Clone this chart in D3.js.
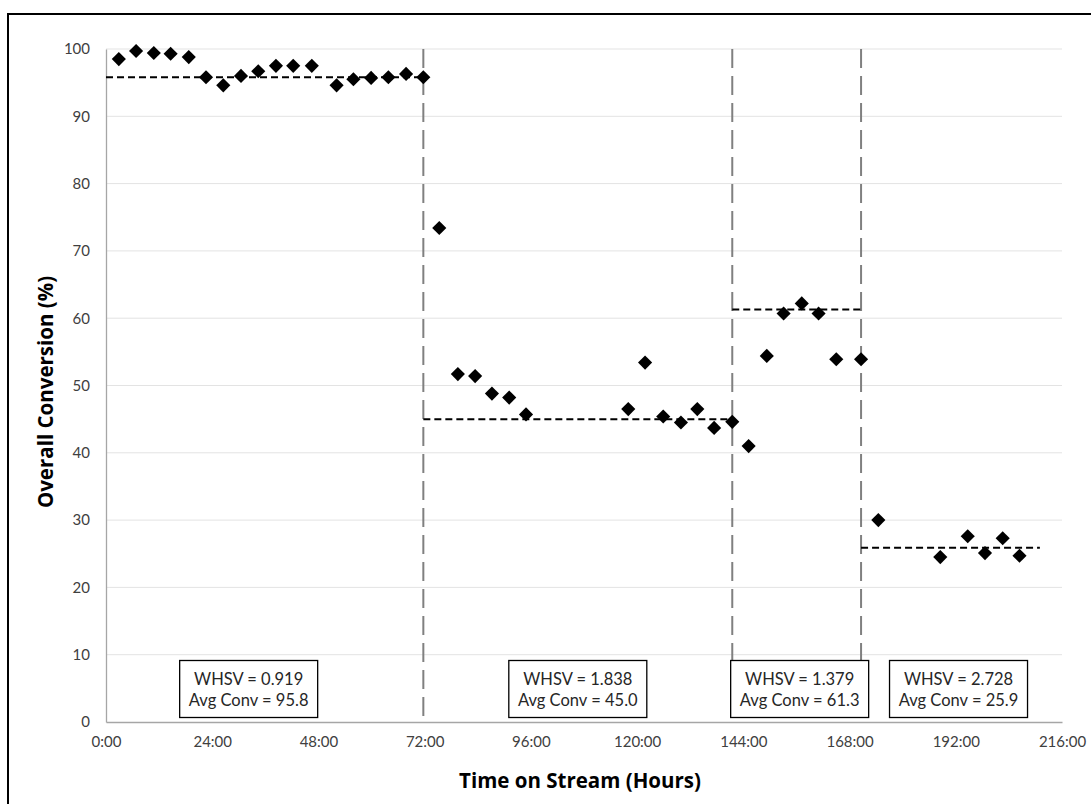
<!DOCTYPE html>
<html>
<head>
<meta charset="utf-8">
<script src="https://cdn.jsdelivr.net/npm/d3@7/dist/d3.min.js"></script>
<style>
  html, body { margin: 0; padding: 0; background: #fff; }
  svg { display: block; }
</style>
</head>
<body>
<svg id="grafico"></svg>
<script>
// datos
const horas = [2.9, 6.8, 10.8, 14.6, 18.7, 22.6, 26.5, 30.5, 34.4, 38.4, 42.3, 46.5,
  52.1, 55.9, 59.9, 63.8, 67.8, 71.7,
  75.3, 79.5, 83.4, 87.2, 91.1, 94.9, 118.0, 121.8, 125.9, 129.9, 133.6, 137.4, 141.5,
  145.2, 149.3, 153.1, 157.2, 161.0, 165.0, 170.6,
  174.5, 188.5, 194.7, 198.6, 202.6, 206.4];
const conversion = [98.5, 99.7, 99.4, 99.3, 98.8, 95.8, 94.6, 96.0, 96.7, 97.5, 97.5, 97.5,
  94.6, 95.5, 95.7, 95.8, 96.3, 95.8,
  73.4, 51.7, 51.4, 48.8, 48.2, 45.7, 46.5, 53.4, 45.4, 44.5, 46.5, 43.7, 44.6,
  41.0, 54.4, 60.7, 62.2, 60.7, 53.9, 53.9,
  30.0, 24.5, 27.6, 25.1, 27.3, 24.7];

const limites = [71.7, 141.5, 170.6];          // cambios de WHSV (h)
const inicioTramo = [0, 71.7, 141.5, 170.6];
const finTramo = [71.7, 141.5, 170.6, 211];
const promedios = [95.8, 45.0, 61.3, 25.9];
const whsv = ["0.919", "1.838", "1.379", "2.728"];
const promTexto = ["95.8", "45.0", "61.3", "25.9"];

const ticksX = [0, 24, 48, 72, 96, 120, 144, 168, 192, 216];
const ticksY = [0, 10, 20, 30, 40, 50, 60, 70, 80, 90, 100];

// diseño
const ancho = 1091;
const alto = 804;
const izq = 106, der = 1062, arriba = 49, abajo = 722;
const desplazCaja = [-16, 0, 3, -3];
const fuente = "Lato, 'Open Sans', sans-serif";

const svg = d3.select("#grafico").attr("width", ancho).attr("height", alto);

svg.append("rect")
  .attr("x", 8).attr("y", 14)
  .attr("width", 1100).attr("height", 820)
  .attr("fill", "#fff")
  .attr("stroke", "#000")
  .attr("stroke-width", 2);

const x = d3.scaleLinear().domain([0, 216]).range([izq, der]);
const y = d3.scaleLinear().domain([0, 100]).range([abajo, arriba]);

// reticula
svg.append("g")
  .selectAll("line")
  .data(ticksY.filter(d => d > 0))
  .join("line")
  .attr("x1", izq).attr("x2", der)
  .attr("y1", d => y(d)).attr("y2", d => y(d))
  .attr("stroke", "#e3e3e3")
  .attr("stroke-width", 1);

// ejes
const ejeX = svg.append("g")
  .attr("transform", `translate(0,${abajo})`)
  .call(d3.axisBottom(x).tickValues(ticksX).tickFormat(d => d + ":00").tickSize(0).tickPadding(14));

const ejeY = svg.append("g")
  .attr("transform", `translate(${izq},0)`)
  .call(d3.axisLeft(y).tickValues(ticksY).tickSize(0).tickPadding(16));

[ejeX, ejeY].forEach(g => {
  g.select(".domain").attr("stroke", "#a6a6a6").attr("stroke-width", 1.3);
  g.selectAll("text")
    .attr("fill", "#404040")
    .attr("font-family", fuente)
    .attr("font-size", 15);
});

// lineas verticales de cambio
svg.append("g")
  .selectAll("line")
  .data(limites)
  .join("line")
  .attr("x1", d => x(d)).attr("x2", d => x(d))
  .attr("y1", arriba).attr("y2", abajo)
  .attr("stroke", "#808080")
  .attr("stroke-width", 2)
  .attr("stroke-dasharray", "19 8");

// promedios
svg.append("g")
  .selectAll("line")
  .data(promedios)
  .join("line")
  .attr("x1", (d, i) => x(inicioTramo[i]))
  .attr("x2", (d, i) => x(finTramo[i]))
  .attr("y1", d => y(d)).attr("y2", d => y(d))
  .attr("stroke", "#000")
  .attr("stroke-width", 2)
  .attr("stroke-dasharray", "7 4");

// puntos
const rombo = d3.symbol(d3.symbolSquare, 100);
svg.append("g")
  .selectAll("path")
  .data(horas)
  .join("path")
  .attr("d", rombo)
  .attr("transform", (d, i) => `translate(${x(d)},${y(conversion[i])}) rotate(45)`)
  .attr("fill", "#000");

// cajas
const cajas = svg.append("g")
  .selectAll("g")
  .data(whsv)
  .join("g")
  .attr("transform", (d, i) => {
    const fin = i === 3 ? 216 : finTramo[i];
    const cx = (x(inicioTramo[i]) + x(fin)) / 2 + desplazCaja[i];
    return `translate(${cx},689)`;
  });

cajas.append("rect")
  .attr("x", -69).attr("y", -28.5)
  .attr("width", 138).attr("height", 57)
  .attr("fill", "#fff")
  .attr("stroke", "#000")
  .attr("stroke-width", 1.3);

cajas.append("text")
  .attr("text-anchor", "middle")
  .attr("y", -4)
  .attr("font-family", fuente)
  .attr("font-size", 16.5)
  .attr("fill", "#262626")
  .text(d => `WHSV = ${d}`);

cajas.append("text")
  .attr("text-anchor", "middle")
  .attr("y", 17)
  .attr("font-family", fuente)
  .attr("font-size", 16.5)
  .attr("fill", "#262626")
  .text((d, i) => `Avg Conv = ${promTexto[i]}`);

// titulos
svg.append("text")
  .attr("x", 580)
  .attr("y", 788)
  .attr("text-anchor", "middle")
  .attr("font-family", "'Open Sans', sans-serif")
  .attr("font-weight", 700)
  .attr("font-size", 20.5)
  .attr("fill", "#000")
  .text("Time on Stream (Hours)");

svg.append("text")
  .attr("transform", `translate(53,392) rotate(-90)`)
  .attr("text-anchor", "middle")
  .attr("font-family", "'Open Sans', sans-serif")
  .attr("font-weight", 700)
  .attr("font-size", 20.5)
  .attr("fill", "#000")
  .text("Overall Conversion (%)");
</script>
</body>
</html>
